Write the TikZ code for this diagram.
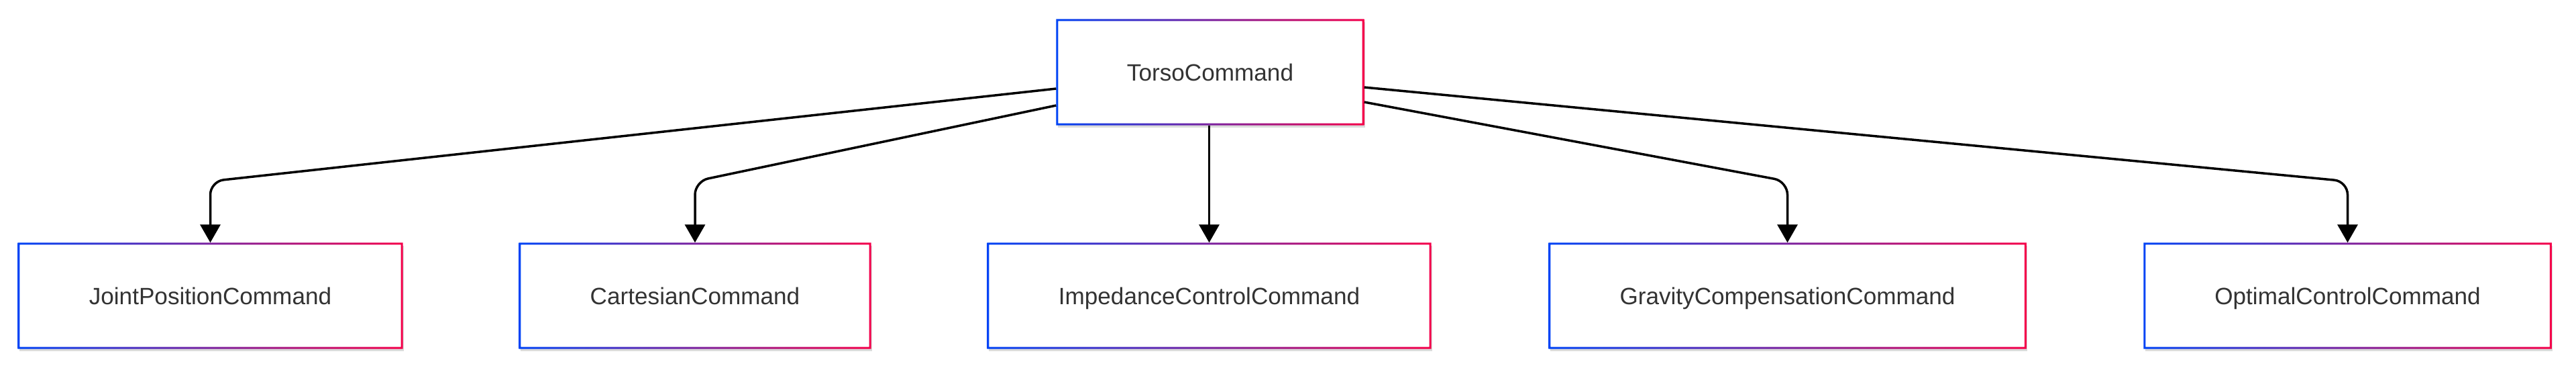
\documentclass[tikz,border=0pt]{standalone}
\usepackage{fontspec}
\setmainfont{Liberation Sans}
\usetikzlibrary{arrows.meta,positioning,calc,shadows}
\definecolor{EdgeBlue}{HTML}{0043F5}
\definecolor{EdgeRed}{HTML}{F5004A}
\definecolor{TextGray}{HTML}{333333}

\tikzset{
  cmdbox/.style={rectangle, fill=white, minimum height=1.57cm, inner sep=0pt,
    font=\fontsize{10pt}{12pt}\selectfont, text=TextGray,
    text height=0.33cm, text depth=0.07cm,
    drop shadow={shadow xshift=0.02cm, shadow yshift=-0.04cm, opacity=0.14, fill=black}},
  link/.style={draw=black, line width=0.035cm, rounded corners=0.2cm,
    -{Triangle[width=0.3cm,length=0.27cm]}}
}

\begin{document}
\begin{tikzpicture}
  \useasboundingbox (0,0) rectangle (38.4,-5.5);

  % parent
  \node[cmdbox, minimum width=4.58cm] (torso) at (18.04,-1.075) {TorsoCommand};

  % children
  \node[cmdbox, minimum width=5.73cm] (joint)     at (3.135,-4.405)  {JointPositionCommand};
  \node[cmdbox, minimum width=5.24cm] (cartesian) at (10.36,-4.405)  {CartesianCommand};
  \node[cmdbox, minimum width=6.61cm] (impedance) at (18.025,-4.405) {ImpedanceControlCommand};
  \node[cmdbox, minimum width=7.11cm] (gravity)   at (26.645,-4.405) {GravityCompensationCommand};
  \node[cmdbox, minimum width=6.07cm] (optimal)   at (34.995,-4.405) {OptimalControlCommand};

  % gradient borders
  \foreach \n in {torso,joint,cartesian,impedance,gravity,optimal}
    \shade[left color=EdgeBlue, right color=EdgeRed, even odd rule]
      (\n.north west) rectangle (\n.south east)
      ($(\n.north west)+(0.03,-0.03)$) rectangle ($(\n.south east)+(-0.03,0.03)$);

  \coordinate (bendrow) at (0,-2.7);

  % connectors
  \draw[link] ([yshift=-0.245cm]torso.west) -- (joint.north |- bendrow) -- (joint.north);
  \draw[link] ([yshift=-0.495cm]torso.west) -- (cartesian.north |- bendrow) -- (cartesian.north);
  \draw[link] (impedance.north |- torso.south) -- (impedance.north);
  \draw[link] ([yshift=-0.445cm]torso.east) -- (gravity.north |- bendrow) -- (gravity.north);
  \draw[link] ([yshift=-0.225cm]torso.east) -- (optimal.north |- bendrow) -- (optimal.north);
\end{tikzpicture}
\end{document}
